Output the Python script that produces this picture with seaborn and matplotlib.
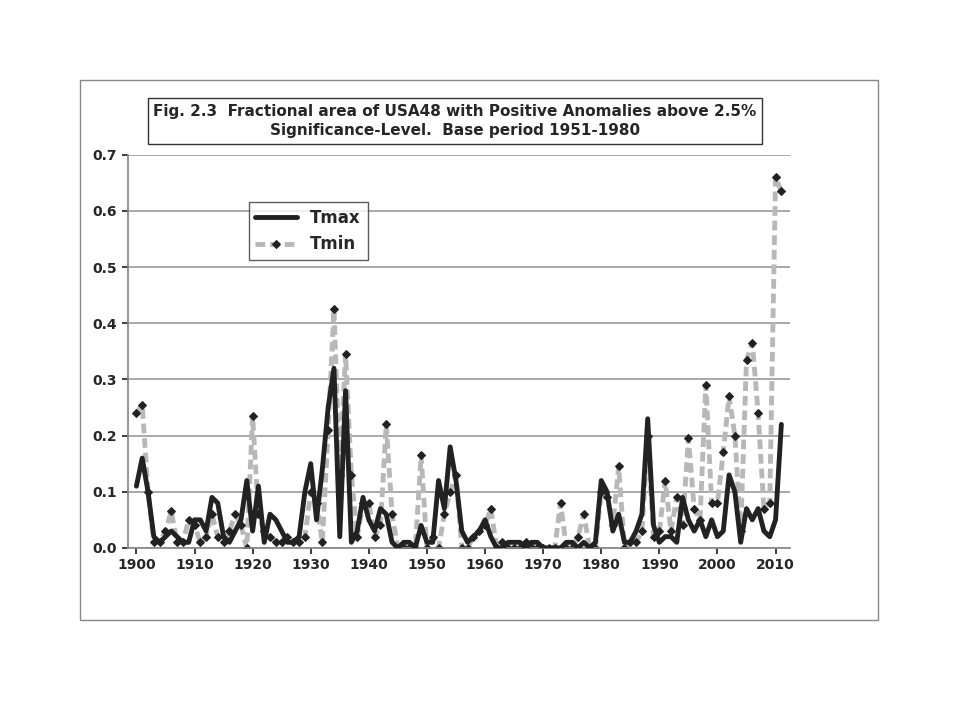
import matplotlib
matplotlib.use("Agg")
import matplotlib.pyplot as plt
import seaborn as sns
import pandas as pd
from matplotlib.patches import Rectangle

years = list(range(1900, 2012))
tmax = [0.11,0.16,0.10,0.02,0.01,0.02,0.03,0.02,0.01,0.01,
        0.05,0.05,0.03,0.09,0.08,0.02,0.01,0.03,0.05,0.12,
        0.03,0.11,0.01,0.06,0.05,0.03,0.01,0.01,0.02,0.10,
        0.15,0.05,0.14,0.25,0.32,0.02,0.28,0.01,0.03,0.09,
        0.05,0.03,0.07,0.06,0.01,0.00,0.01,0.01,0.00,0.04,
        0.01,0.01,0.12,0.07,0.18,0.12,0.03,0.01,0.02,0.03,
        0.05,0.02,0.00,0.00,0.01,0.01,0.01,0.00,0.01,0.01,
        0.00,0.00,0.00,0.00,0.01,0.01,0.00,0.01,0.00,0.01,
        0.12,0.10,0.03,0.06,0.01,0.01,0.03,0.06,0.23,0.04,
        0.01,0.02,0.02,0.01,0.09,0.05,0.03,0.05,0.02,0.05,
        0.02,0.03,0.13,0.10,0.01,0.07,0.05,0.07,0.03,0.02,
        0.05,0.22]
tmin = [0.24,0.255,0.10,0.01,0.01,0.03,0.065,0.01,0.01,0.05,
        0.04,0.01,0.02,0.06,0.02,0.01,0.03,0.06,0.04,0.00,
        0.235,0.06,0.03,0.02,0.01,0.01,0.02,0.01,0.01,0.02,
        0.10,0.08,0.01,0.21,0.425,0.13,0.345,0.13,0.02,0.08,
        0.08,0.02,0.04,0.22,0.06,0.00,0.00,0.00,0.00,0.165,
        0.00,0.02,0.00,0.06,0.10,0.13,0.00,0.00,0.02,0.03,
        0.04,0.07,0.00,0.01,0.00,0.00,0.00,0.01,0.00,0.00,
        0.00,0.00,0.00,0.08,0.00,0.00,0.02,0.06,0.00,0.00,
        0.10,0.09,0.04,0.145,0.00,0.01,0.01,0.03,0.20,0.02,
        0.03,0.12,0.03,0.09,0.04,0.195,0.07,0.05,0.29,0.08,
        0.08,0.17,0.27,0.20,0.03,0.335,0.365,0.24,0.07,0.08,
        0.66,0.635]

df = pd.DataFrame({"Year": years, "Tmax": tmax, "Tmin": tmin})

sns.set_theme(style="white")
plt.rcParams['font.family'] = ['DejaVu Sans']
fig = plt.figure(figsize=(9.6, 7.2), dpi=100)
fig.patches.append(Rectangle((80/960, 100/720), 798/960, 540/720, transform=fig.transFigure,
                             fill=False, edgecolor="#888888", linewidth=1))
ax = fig.add_axes([0.133, 0.239, 0.69, 0.546])
sns.lineplot(data=df, x="Year", y="Tmin", ax=ax, color="#b8b8b8", linewidth=3.5,
             linestyle=(0, (2, 1)), marker="D", markersize=4, markerfacecolor="#222222",
             markeredgecolor="#222222", label="Tmin", zorder=2)
sns.lineplot(data=df, x="Year", y="Tmax", ax=ax, color="#222222", linewidth=3.5,
             label="Tmax", zorder=3)
ax.set_xlim(1898.5, 2012.5)
ax.set_ylim(0, 0.7)
ax.set_xticks(range(1900, 2011, 10))
ax.set_yticks([i/10 for i in range(8)])
ax.set_yticklabels([f"{i/10:.1f}" for i in range(8)])
ax.yaxis.grid(True, color="#999999", linewidth=1.2)
ax.tick_params(labelsize=10, length=4, direction="out", bottom=True, left=True)
for l in ax.get_xticklabels() + ax.get_yticklabels():
    l.set_fontweight("bold")
for s in ["top", "right"]:
    ax.spines[s].set_visible(False)
for s in ["left", "bottom"]:
    ax.spines[s].set_color("#888888")
ax.set_xlabel("")
ax.set_ylabel("")
h, l = ax.get_legend_handles_labels()
leg = ax.legend([h[1], h[0]], [l[1], l[0]], loc="upper left", bbox_to_anchor=(0.17, 0.9),
                frameon=True, fancybox=False, edgecolor="#333333",
                prop={"weight": "bold", "size": 12}, handlelength=2.5)
fig.text(0.474, 0.832, "Fig. 2.3  Fractional area of USA48 with Positive Anomalies above 2.5%\nSignificance-Level.  Base period 1951-1980",
         ha="center", va="center", fontsize=11, fontweight="bold", linespacing=1.4,
         bbox=dict(boxstyle="square,pad=0.35", facecolor="white", edgecolor="#333333"))
fig.savefig("out.png", dpi=100)
